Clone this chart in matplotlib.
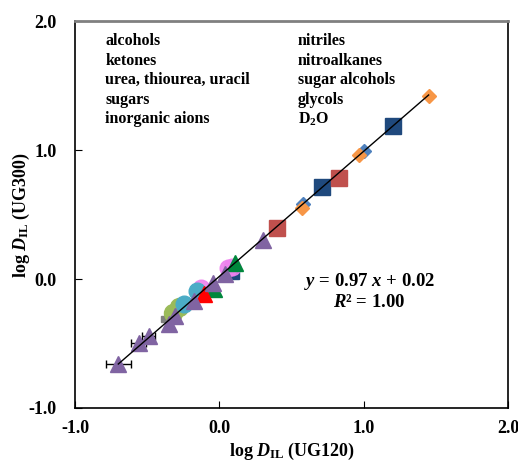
import matplotlib
matplotlib.use("Agg")
import matplotlib.pyplot as plt

plt.rcParams['font.family'] = ['Liberation Serif', 'DejaVu Serif']
plt.rcParams['font.weight'] = 'bold'
plt.rcParams['mathtext.fontset'] = 'custom'
plt.rcParams['mathtext.rm'] = 'Liberation Serif:bold'
plt.rcParams['mathtext.it'] = 'Liberation Serif:bold:italic'
plt.rcParams['mathtext.bf'] = 'Liberation Serif:bold'

# log D_IL values, UG120 (x) vs UG300 (y)
alc_x = [-0.70, -0.56, -0.49, -0.347, -0.31, -0.174, -0.046, 0.04, 0.30]
alc_y = [-0.66, -0.50, -0.44, -0.35, -0.285, -0.17, -0.028, 0.036, 0.305]
alc_xerr = [0.087, 0.055, 0.045, 0, 0, 0, 0, 0, 0]
olive_x = [-0.324, -0.278]
olive_y = [-0.26, -0.22]
teal_x = [-0.243, -0.155]
teal_y = [-0.195, -0.092]
pink_x = [-0.127, 0.058, 0.09]
pink_y = [-0.067, 0.087, 0.095]
gray_x = [-0.38]
gray_y = [-0.31]
redtri_x = [-0.104]
redtri_y = [-0.118]
greentri_x = [-0.035, 0.109]
greentri_y = [-0.08, 0.125]
navy_x = [0.104, 0.71, 1.20]
navy_y = [0.036, 0.71, 1.19]
red_x = [0.40, 0.83]
red_y = [0.395, 0.78]
blue_x = [0.58, 1.00]
blue_y = [0.58, 0.99]
orange_x = [0.57, 0.97, 1.45]
orange_y = [0.55, 0.96, 1.42]

slope, intercept = 0.97, 0.02
fit_range = [-0.70, 1.45]

legend_col1 = ['alcohols', 'ketones', 'urea, thiourea, uracil', 'sugars', 'inorganic aions']
legend_col2 = ['nitriles', 'nitroalkanes', 'sugar alcohols', 'glycols', 'D$_2$O']

fig = plt.figure(figsize=(5.18, 4.63), dpi=100)
ax = fig.add_axes([0.1448, 0.1188, 0.8359, 0.8358])

ax.plot(navy_x[:1], navy_y[:1], 's', color='#1F497D', ms=7, zorder=2)
ax.plot(pink_x, pink_y, 'o', color='#EE82EE', ms=12, alpha=0.9, zorder=2)
ax.plot(gray_x, gray_y, 's', color='#7F7F7F', ms=5, zorder=2)
ax.plot(olive_x, olive_y, 'o', color='#9BBB59', ms=13, zorder=2)
ax.plot(teal_x, teal_y, 'o', color='#4BACC6', ms=12, zorder=2)
ax.plot(greentri_x, greentri_y, '^', color='#00873C', ms=12, zorder=3)
ax.plot(redtri_x, redtri_y, '^', color='#FF0000', ms=12, zorder=3)
ax.errorbar(alc_x, alc_y, xerr=alc_xerr, fmt='^', color='#8064A2', ms=12,
            ecolor='black', elinewidth=1, capsize=3, capthick=1, zorder=4)
ax.plot(navy_x[1:], navy_y[1:], 's', color='#1F497D', ms=11, zorder=2)
ax.plot(red_x, red_y, 's', color='#C0504D', ms=11, zorder=2)
ax.plot(blue_x, blue_y, 'D', color='#4F81BD', ms=7.5, zorder=2)
ax.plot(orange_x, orange_y, 'D', color='#F79646', ms=7.5, zorder=3)

ax.plot(fit_range, [slope * v + intercept for v in fit_range], color='black', lw=1, zorder=5)

ax.set_xlim(-1, 2)
ax.set_ylim(-1, 2)
ax.set_xticks([-1, 0, 1, 2])
ax.set_yticks([-1, 0, 1, 2])
ax.set_xticklabels(['-1.0', '0.0', '1.0', '2.0'], fontsize=13, fontweight='bold')
ax.set_yticklabels(['-1.0', '0.0', '1.0', '2.0'], fontsize=13, fontweight='bold')
ax.tick_params(direction='in', length=5, width=0.8, pad=9)
ax.tick_params(axis='y', pad=13)
ax.tick_params(top=False, right=False)
for s in ['left', 'bottom', 'right']:
    ax.spines[s].set_linewidth(1.2)
ax.spines['top'].set_color('#808080')
ax.spines['top'].set_linewidth(2)

ax.set_xlabel(r'log $D_{\rm IL}$ (UG120)', fontsize=13, fontweight='bold')
ax.set_ylabel(r'log $D_{\rm IL}$ (UG300)', fontsize=13, fontweight='bold')
ax.xaxis.set_label_coords(0.5, -0.085)
ax.yaxis.set_label_coords(-0.10, 0.5)

for i, lab in enumerate(legend_col1):
    ax.text(0.07, 0.948 - i * 0.0505, lab, transform=ax.transAxes, fontsize=11.5,
            fontweight='bold', va='center')
for i, lab in enumerate(legend_col2):
    ax.text(0.515, 0.948 - i * 0.0505, lab, transform=ax.transAxes, fontsize=11.5,
            fontweight='bold', va='center')

ax.text(1.04, -0.02, r'$y$ = 0.97 $x$ + 0.02', fontsize=13.5, ha='center', va='center')
ax.text(1.04, -0.185, r'$R$² = 1.00', fontsize=13.5, ha='center', va='center')

fig.savefig('out.png', dpi=100)
